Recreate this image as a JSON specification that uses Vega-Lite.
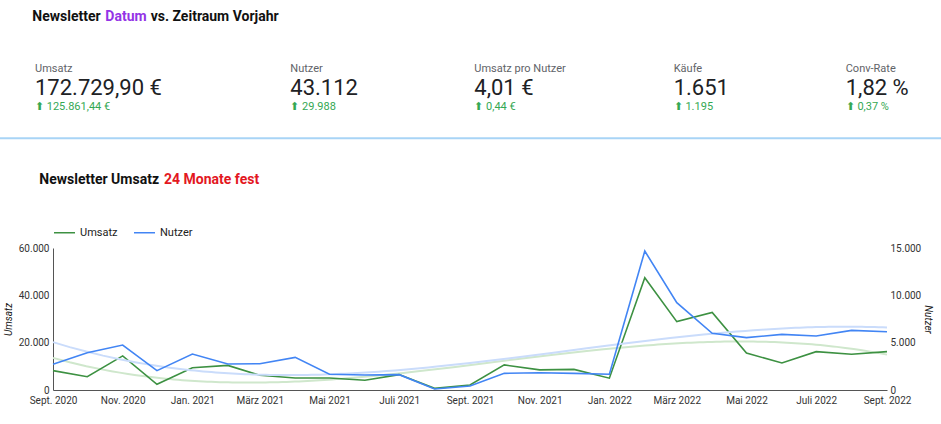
{
  "$schema": "https://vega.github.io/schema/vega-lite/v6.json",
  "width": 834,
  "height": 142,
  "autosize": {"type": "none"},
  "padding": {"left": 53, "top": 248, "right": 54, "bottom": 34},
  "background": "#ffffff",
  "config": {
    "font": "Roboto",
    "view": {"stroke": null},
    "axis": {
      "grid": false,
      "ticks": false,
      "labelFont": "Roboto",
      "labelFontSize": 10,
      "labelColor": "#333333",
      "domainColor": "#555555",
      "titleFont": "Roboto",
      "titleFontSize": 10,
      "titleFontStyle": "italic",
      "titleFontWeight": "normal",
      "titleColor": "#222222"
    },
    "locale": {
      "number": {"decimal": ",", "thousands": ".", "grouping": [3], "currency": ["", " €"]},
      "time": {
        "dateTime": "%A, %e. %B %Y, %X",
        "date": "%d.%m.%Y",
        "time": "%H:%M:%S",
        "periods": ["AM", "PM"],
        "days": ["Sonntag", "Montag", "Dienstag", "Mittwoch", "Donnerstag", "Freitag", "Samstag"],
        "shortDays": ["So", "Mo", "Di", "Mi", "Do", "Fr", "Sa"],
        "months": ["Januar", "Februar", "März", "April", "Mai", "Juni", "Juli", "August", "September", "Oktober", "November", "Dezember"],
        "shortMonths": ["Jan.", "Feb.", "März", "Apr.", "Mai", "Juni", "Juli", "Aug.", "Sept.", "Okt.", "Nov.", "Dez."]
      }
    }
  },
  "datasets": {
    "monatlich": [
      {"Monat": "2020-09-01", "Umsatz": 8200, "Nutzer": 2710},
      {"Monat": "2020-10-01", "Umsatz": 5600, "Nutzer": 3940},
      {"Monat": "2020-11-01", "Umsatz": 14400, "Nutzer": 4750},
      {"Monat": "2020-12-01", "Umsatz": 2400, "Nutzer": 2040},
      {"Monat": "2021-01-01", "Umsatz": 9400, "Nutzer": 3800},
      {"Monat": "2021-02-01", "Umsatz": 10400, "Nutzer": 2750},
      {"Monat": "2021-03-01", "Umsatz": 6200, "Nutzer": 2780},
      {"Monat": "2021-04-01", "Umsatz": 5100, "Nutzer": 3450},
      {"Monat": "2021-05-01", "Umsatz": 5100, "Nutzer": 1660},
      {"Monat": "2021-06-01", "Umsatz": 4100, "Nutzer": 1590},
      {"Monat": "2021-07-01", "Umsatz": 6500, "Nutzer": 1620},
      {"Monat": "2021-08-01", "Umsatz": 700, "Nutzer": 100},
      {"Monat": "2021-09-01", "Umsatz": 2100, "Nutzer": 420},
      {"Monat": "2021-10-01", "Umsatz": 10600, "Nutzer": 1760},
      {"Monat": "2021-11-01", "Umsatz": 8500, "Nutzer": 1830},
      {"Monat": "2021-12-01", "Umsatz": 8700, "Nutzer": 1760},
      {"Monat": "2022-01-01", "Umsatz": 5000, "Nutzer": 1670},
      {"Monat": "2022-02-01", "Umsatz": 47400, "Nutzer": 14680},
      {"Monat": "2022-03-01", "Umsatz": 28900, "Nutzer": 9220},
      {"Monat": "2022-04-01", "Umsatz": 32800, "Nutzer": 5990},
      {"Monat": "2022-05-01", "Umsatz": 15600, "Nutzer": 5530},
      {"Monat": "2022-06-01", "Umsatz": 11400, "Nutzer": 5880},
      {"Monat": "2022-07-01", "Umsatz": 16200, "Nutzer": 5700},
      {"Monat": "2022-08-01", "Umsatz": 15100, "Nutzer": 6300},
      {"Monat": "2022-09-01", "Umsatz": 16200, "Nutzer": 6160}
    ],
    "kennzahlen": [
      {"nr": 1, "zeile": "Label", "text": "Umsatz"},
      {"nr": 1, "zeile": "Wert", "text": "172.729,90 €"},
      {"nr": 1, "zeile": "Delta", "text": "⬆ 125.861,44 €"},
      {"nr": 2, "zeile": "Label", "text": "Nutzer"},
      {"nr": 2, "zeile": "Wert", "text": "43.112"},
      {"nr": 2, "zeile": "Delta", "text": "⬆ 29.988"},
      {"nr": 3, "zeile": "Label", "text": "Umsatz pro Nutzer"},
      {"nr": 3, "zeile": "Wert", "text": "4,01 €"},
      {"nr": 3, "zeile": "Delta", "text": "⬆ 0,44 €"},
      {"nr": 4, "zeile": "Label", "text": "Käufe"},
      {"nr": 4, "zeile": "Wert", "text": "1.651"},
      {"nr": 4, "zeile": "Delta", "text": "⬆ 1.195"},
      {"nr": 5, "zeile": "Label", "text": "Conv-Rate"},
      {"nr": 5, "zeile": "Wert", "text": "1,82 %"},
      {"nr": 5, "zeile": "Delta", "text": "⬆ 0,37 %"}
    ],
    "titel": [
      {"nr": 1, "zeile": "Berichtstitel", "typ": "Text", "text": "Newsletter"},
      {"nr": 2, "zeile": "Berichtstitel", "typ": "Datumsfeld", "text": "Datum"},
      {"nr": 3, "zeile": "Berichtstitel", "typ": "Text", "text": "vs. Zeitraum Vorjahr"},
      {"nr": 4, "zeile": "Diagrammtitel", "typ": "Text", "text": "Newsletter Umsatz"},
      {"nr": 5, "zeile": "Diagrammtitel", "typ": "Zeitraum", "text": "24 Monate fest"}
    ]
  },
  "layer": [
    {
      "data": {"name": "monatlich", "format": {"parse": {"Monat": "date"}}},
      "encoding": {
        "x": {
          "field": "Monat",
          "type": "temporal",
          "scale": {"type": "utc", "nice": false},
          "axis": {
            "format": "%b %Y",
            "tickCount": {"interval": "month", "step": 2},
            "labelPadding": 5,
            "labelFlush": false,
            "labelOverlap": false,
            "title": null
          }
        }
      },
      "layer": [
        {
          "encoding": {
            "y": {
              "field": "Umsatz",
              "type": "quantitative",
              "scale": {"domain": [0, 60000], "nice": false},
              "axis": {"orient": "left", "values": [0, 20000, 40000, 60000], "format": ",d", "title": "Umsatz", "titlePadding": 5, "labelPadding": 4, "domain": true}
            }
          },
          "layer": [
            {
              "transform": [{"regression": "Umsatz", "on": "Monat", "method": "poly", "order": 3}],
              "mark": {"type": "line", "color": "#cfe7cc", "strokeWidth": 2}
            },
            {
              "mark": {"type": "line", "strokeWidth": 1.6},
              "encoding": {
                "color": {
                  "datum": "Umsatz",
                  "type": "nominal",
                  "scale": {"domain": ["Umsatz", "Nutzer"], "range": ["#3d9142", "#4285f4"]},
                  "legend": {
                    "orient": "none",
                    "legendX": 0,
                    "legendY": -27,
                    "direction": "horizontal",
                    "title": null,
                    "symbolType": "stroke",
                    "symbolSize": 441,
                    "symbolStrokeWidth": 1.5,
                    "labelFont": "Roboto",
                    "labelFontSize": 11,
                    "labelColor": "#222222",
                    "labelOffset": 4,
                    "columnPadding": 13,
                    "padding": 0
                  }
                }
              }
            }
          ]
        },
        {
          "encoding": {
            "y": {
              "field": "Nutzer",
              "type": "quantitative",
              "scale": {"domain": [0, 15000], "nice": false},
              "axis": {"orient": "right", "values": [0, 5000, 10000, 15000], "format": ",d", "title": "Nutzer", "titlePadding": 2, "labelPadding": 3, "domain": false}
            }
          },
          "layer": [
            {
              "transform": [{"regression": "Nutzer", "on": "Monat", "method": "poly", "order": 3}],
              "mark": {"type": "line", "color": "#cadcfb", "strokeWidth": 2}
            },
            {
              "mark": {"type": "line", "strokeWidth": 1.6},
              "encoding": {"color": {"datum": "Nutzer", "type": "nominal"}}
            }
          ]
        }
      ],
      "resolve": {"scale": {"y": "independent"}}
    },
    {
      "data": {"name": "kennzahlen"},
      "encoding": {
        "x": {"field": "nr", "type": "quantitative", "scale": {"domain": [1, 2, 3, 4, 5], "range": [-18, 237.3, 421.3, 620.7, 792.7], "nice": false, "zero": false}, "axis": null},
        "y": {"field": "zeile", "type": "nominal", "scale": {"type": "point", "domain": ["Label", "Wert", "Delta"], "range": [-179.3, -140.8], "padding": 0}, "axis": null},
        "text": {"field": "text"},
        "color": {"field": "zeile", "type": "nominal", "scale": {"domain": ["Label", "Wert", "Delta"], "range": ["#5f6368", "#202124", "#34a853"]}, "legend": null}
      },
      "layer": [
        {
          "transform": [{"filter": {"field": "zeile", "equal": "Label"}}],
          "mark": {"type": "text", "align": "left", "baseline": "middle", "font": "Roboto", "fontSize": 11}
        },
        {
          "transform": [{"filter": {"field": "zeile", "equal": "Wert"}}],
          "mark": {"type": "text", "align": "left", "baseline": "middle", "font": "Roboto", "fontSize": 22}
        },
        {
          "transform": [{"filter": {"field": "zeile", "equal": "Delta"}}],
          "mark": {"type": "text", "align": "left", "baseline": "middle", "font": "Roboto", "fontSize": 11}
        }
      ]
    },
    {
      "data": {"name": "titel"},
      "mark": {"type": "text", "align": "left", "baseline": "middle", "font": "Roboto", "fontWeight": "bold", "fontSize": 14},
      "encoding": {
        "x": {"field": "nr", "type": "quantitative", "scale": {"domain": [1, 2, 3, 4, 5], "range": [-20.7, 52.3, 97.7, -13.7, 111], "nice": false, "zero": false}, "axis": null},
        "y": {"field": "zeile", "type": "nominal", "scale": {"type": "point", "domain": ["Berichtstitel", "Diagrammtitel"], "range": [-231.3, -68.3], "padding": 0}, "axis": null},
        "text": {"field": "text"},
        "color": {"field": "typ", "type": "nominal", "scale": {"domain": ["Text", "Datumsfeld", "Zeitraum"], "range": ["#111111", "#9334e6", "#e3181f"]}, "legend": null}
      }
    },
    {
      "data": {"values": [{"element": "Trennlinie"}]},
      "mark": {"type": "rule", "color": "#a8d4f6", "strokeWidth": 2},
      "encoding": {
        "x": {"datum": 0, "type": "quantitative", "scale": {"domain": [0, 1], "range": [-53, 888], "nice": false, "zero": false}, "axis": null},
        "x2": {"datum": 1},
        "y": {"datum": 0, "type": "quantitative", "scale": {"domain": [0, 1], "range": [-109.7, 0], "nice": false}, "axis": null}
      }
    }
  ],
  "resolve": {"scale": {"x": "independent", "y": "independent", "color": "independent", "size": "independent"}}
}
